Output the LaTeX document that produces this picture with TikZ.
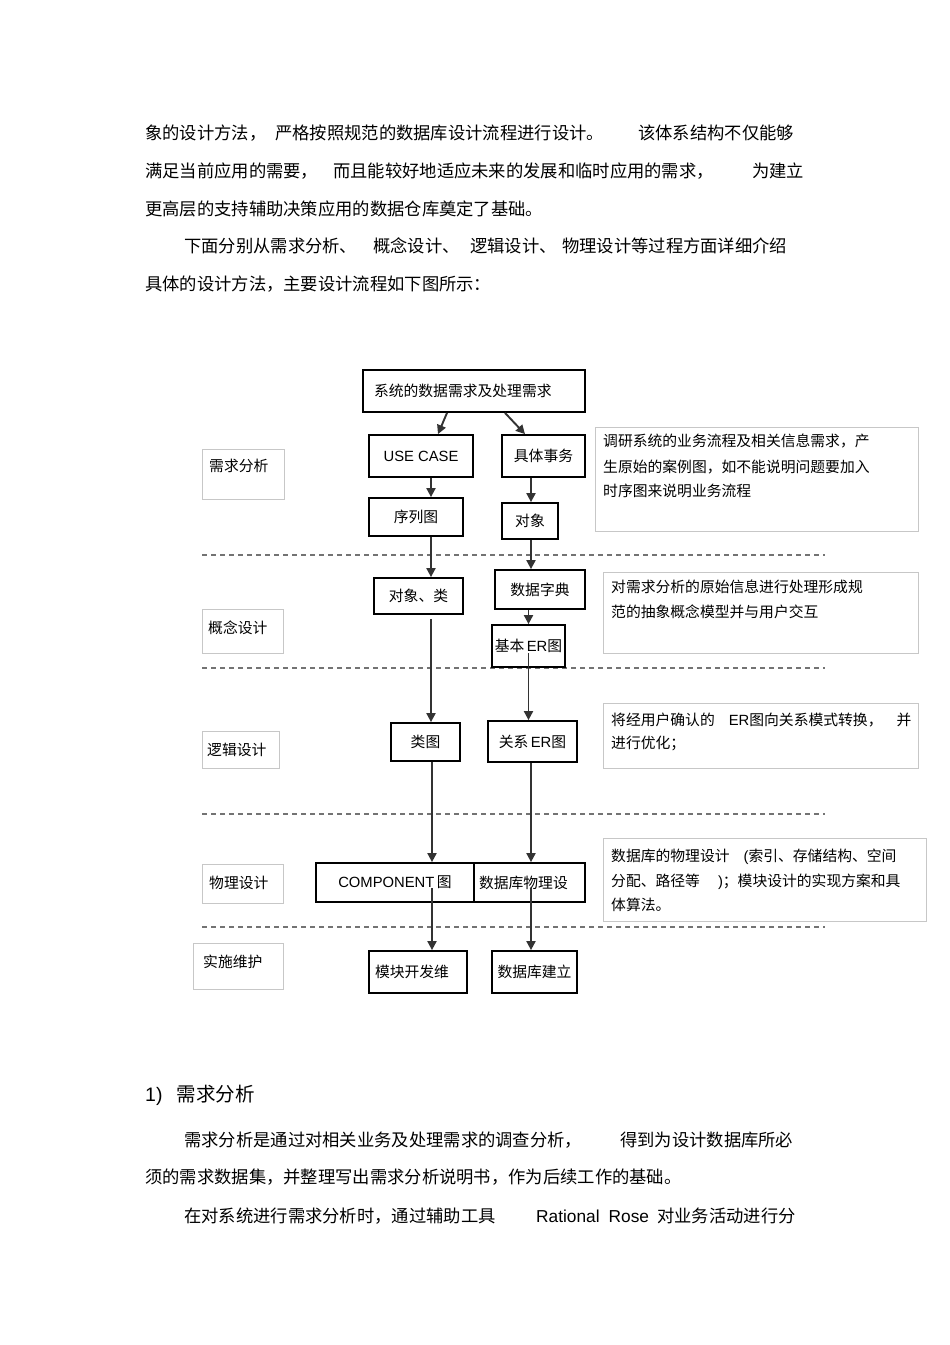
\documentclass[tikz,border=0pt]{standalone}
\usepackage{fontspec}
\setmainfont{Noto Sans CJK SC}
\newfontfamily\lat{Liberation Sans}
\usetikzlibrary{arrows.meta}
\newcommand\dgfont{\fontsize{14.8}{17}\selectfont}
\newcommand\bodyfont{\fontsize{17.3}{20}\selectfont}
\newcommand\headfont{\fontsize{19.5}{22}\selectfont}
\begin{document}
\begin{tikzpicture}[x=1pt,y=-1pt,
  bx/.style={draw=black, line width=1.8pt, inner sep=0pt, font=\dgfont},
  lb/.style={draw=black!22, line width=1pt, inner sep=0pt},
  dsc/.style={draw=black!22, line width=1pt, inner sep=0pt},
  sep/.style={draw=black!55, line width=1.9pt, dash pattern=on 5pt off 4pt},
  arr/.style={draw=black!80, line width=1.9pt, -{Triangle[length=9pt,width=9pt]}},
  tx/.style={anchor=base west, inner sep=0pt, font=\dgfont},
  bt/.style={anchor=base west, inner sep=0pt, font=\bodyfont}]
\useasboundingbox[fill=white] (0,0) rectangle (950,1345);

% ---------- body text (top) ----------
\node[bt] (t1a) at (145,139.5) {象的设计方法，};
\node[bt] (t1b) at (275,139.5) {严格按照规范的数据库设计流程进行设计。};
\node[bt] (t1c) at (638,139.5) {该体系结构不仅能够};
\node[bt] (t2a) at (145,177.5) {满足当前应用的需要，};
\node[bt] (t2b) at (333,177.5) {而且能较好地适应未来的发展和临时应用的需求，};
\node[bt] (t2c) at (752,177.5) {为建立};
\node[bt] (t3a) at (145,215.5) {更高层的支持辅助决策应用的数据仓库奠定了基础。};
\node[bt] (t4a) at (184,252.5) {下面分别从需求分析、};
\node[bt] (t4b) at (373,252.5) {概念设计、};
\node[bt] (t4c) at (470,252.5) {逻辑设计、};
\node[bt] (t4d) at (562,252.5) {物理设计等过程方面详细介绍};
\node[bt] (t5a) at (145,290.5) {具体的设计方法，主要设计流程如下图所示：};

% ---------- separators ----------
\draw[sep] (202,555) -- (825,555);
\draw[sep] (202,668) -- (825,668);
\draw[sep] (202,814) -- (825,814);
\draw[sep] (202,927) -- (825,927);

% ---------- stage labels ----------
\node[lb, minimum width=82pt, minimum height=50pt] (l1) at (243,474) {};
\node[lb, minimum width=81pt, minimum height=44pt] (l2) at (242.5,631) {};
\node[lb, minimum width=77pt, minimum height=37pt] (l3) at (240.5,749.5) {};
\node[lb, minimum width=81pt, minimum height=39pt] (l4) at (242.5,883.5) {};
\node[lb, minimum width=90pt, minimum height=46pt] (l5) at (238,966) {};
\node[tx] (l1t) at (209,471.5) {需求分析};
\node[tx] (l2t) at (208,633.5) {概念设计};
\node[tx] (l3t) at (207,755.5) {逻辑设计};
\node[tx] (l4t) at (209,888.5) {物理设计};
\node[tx] (l5t) at (203,967.5) {实施维护};

% ---------- description boxes ----------
\node[dsc, minimum width=323pt, minimum height=104pt] (d1) at (756.5,479) {};
\node[dsc, minimum width=315pt, minimum height=81pt] (d2) at (760.5,612.5) {};
\node[dsc, minimum width=315pt, minimum height=65pt] (d3) at (760.5,735.5) {};
\node[dsc, minimum width=323pt, minimum height=83pt] (d4) at (764.5,879.5) {};
\node[tx] (d1a) at (603,446.5) {调研系统的业务流程及相关信息需求，产};
\node[tx] (d1b) at (603,472.5) {生原始的案例图，如不能说明问题要加入};
\node[tx] (d1c) at (603,496.5) {时序图来说明业务流程};
\node[tx] (d2a) at (611,592.5) {对需求分析的原始信息进行处理形成规};
\node[tx] (d2b) at (611,617.5) {范的抽象概念模型并与用户交互};
\node[tx] (d3a) at (611,725.5) {将经用户确认的\hspace{14pt}{\lat ER}图向关系模式转换，\hspace{14pt}并};
\node[tx] (d3b) at (611,748.5) {进行优化；};
\node[tx] (d4a) at (611,861.5) {数据库的物理设计\hspace{14pt}{\lat (}索引、存储结构、空间};
\node[tx] (d4b) at (611,886.5) {分配、路径等\hspace{18pt}{\lat )}；模块设计的实现方案和具};
\node[tx] (d4c) at (611,910.5) {体算法。};

% ---------- flow boxes ----------
\node[bx, minimum height=42pt, text width=200pt, inner xsep=11pt, align=left] (sys) at (474,391) {系统的数据需求及处理需求};
\node[bx, minimum width=104pt, minimum height=42pt] (uc) at (421,456) {\lat USE CASE};
\node[bx, minimum width=83pt, minimum height=42pt] (sw) at (543.5,456) {具体事务};
\node[bx, minimum width=94pt, minimum height=38pt] (xl) at (416,517) {序列图};
\node[bx, minimum width=56pt, minimum height=36pt] (dx) at (530,521) {对象};
\node[bx, minimum width=89pt, minimum height=36pt] (dxl) at (418.5,596) {对象、类};
\node[bx, minimum width=90pt, minimum height=39pt] (sjzd) at (540,589.5) {数据字典};
\node[bx, minimum width=73pt, minimum height=42pt] (ber) at (528.5,646) {基本\,{\lat ER}图};
\node[bx, minimum width=69pt, minimum height=38pt] (lt) at (425.5,742) {类图};
\node[bx, minimum width=89pt, minimum height=41pt] (gx) at (532.5,741.5) {关系\,{\lat ER}图};
\node[bx, minimum width=158pt, minimum height=39pt] (comp) at (395,882.5) {{\lat COMPONENT}\,图};
\node[bx, minimum height=39pt, text width=101pt, inner xsep=5pt, align=left] (sjwl) at (529.5,882.5) {数据库物理设};
\node[bx, minimum height=42pt, text width=86pt, inner xsep=6pt, align=left] (mk) at (418,972) {模块开发维};
\node[bx, minimum width=85pt, minimum height=42pt] (sjjl) at (534.5,972) {数据库建立};

% ---------- connectors ----------
\draw[arr] ([xshift=-27pt]sys.south) -- ([xshift=17pt]uc.north);
\draw[arr] ([xshift=31pt]sys.south) -- ([xshift=-18.5pt]sw.north);
\draw[arr] ([xshift=10pt]uc.south) -- ([xshift=10pt]uc.south |- xl.north);
\draw[arr] ([xshift=-12.5pt]sw.south) -- ([xshift=-12.5pt]sw.south |- dx.north);
\draw[arr] ([xshift=15pt]xl.south) -- ([xshift=15pt]xl.south |- dxl.north);
\draw[arr] ([xshift=1pt]dx.south) -- ([xshift=1pt]dx.south |- sjzd.north);
\draw[arr] (ber.north |- sjzd.south) -- (ber.north);
\draw[arr] ([xshift=12.5pt,yshift=-4pt]dxl.south) -- ([xshift=12.5pt]dxl.south |- lt.north);
\draw[arr] ([yshift=-7pt]ber.center) -- (ber.center |- gx.north);
\draw[arr] ([xshift=6.5pt]lt.south) -- ([xshift=6.5pt]lt.south |- comp.north);
\draw[arr] ([xshift=-1.5pt]gx.south) -- ([xshift=-1.5pt]gx.south |- sjwl.north);
\draw[arr] ([xshift=37pt,yshift=-5.5pt]comp.center) -- ([xshift=37pt]comp.center |- mk.north);
\draw[arr] ([xshift=1.5pt,yshift=-5.5pt]sjwl.center) -- ([xshift=1.5pt]sjwl.center |- sjjl.north);

% ---------- body text (bottom) ----------
\node[anchor=base west, inner sep=0pt, font=\headfont] (h1) at (145,1101.3) {{\lat 1)}\hspace{14pt}需求分析};
\node[bt] (b1a) at (184,1146.5) {需求分析是通过对相关业务及处理需求的调查分析，};
\node[bt] (b1b) at (620,1146.5) {得到为设计数据库所必};
\node[bt] (b2a) at (145,1183.5) {须的需求数据集，并整理写出需求分析说明书，作为后续工作的基础。};
\node[bt] (b3a) at (184,1222.5) {在对系统进行需求分析时，通过辅助工具};
\node[bt] (b3b) at (536,1222.5) {{\lat Rational\hspace{9pt}Rose}};
\node[bt] (b3c) at (657,1222.5) {对业务活动进行分};
\end{tikzpicture}
\end{document}
